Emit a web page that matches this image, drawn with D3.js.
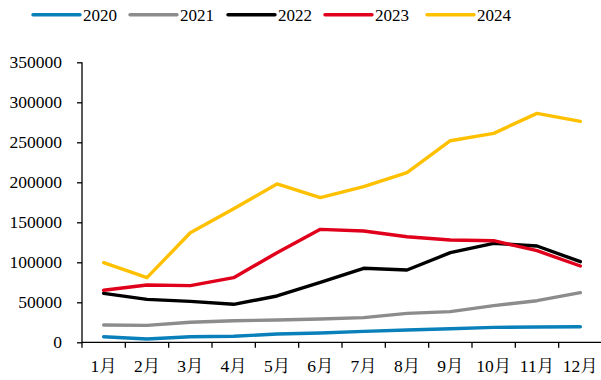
<!DOCTYPE html>
<html>
<head>
<meta charset="utf-8">
<script src="https://cdn.jsdelivr.net/npm/d3@7"></script>
<style>
  html, body { margin: 0; padding: 0; background: #fff; }
  svg { display: block; }
</style>
</head>
<body>
<svg id="chart" width="601" height="380"></svg>
<script>
// Monthly values per year
const months = ["1月","2月","3月","4月","5月","6月","7月","8月","9月","10月","11月","12月"];
const years = ["2020","2021","2022","2023","2024"];
const colors = ["#0a80ba","#8c8c8c","#000000","#e0001b","#ffc000"];
const s2020 = [7000, 4100, 7000, 7500, 10400, 11600, 13700, 15400, 17000, 18700, 19100, 19500];
const s2021 = [21600, 21200, 25000, 27000, 27900, 29100, 30800, 36200, 38300, 45800, 52000, 62000];
const s2022 = [61200, 53700, 51200, 47500, 57900, 75000, 92500, 90400, 112000, 123700, 120400, 100800];
const s2023 = [65000, 71600, 70800, 80800, 112000, 141200, 139100, 132000, 127900, 127000, 114500, 95400];
const s2024 = [99500, 80800, 137000, 167000, 197900, 180800, 194500, 212000, 252000, 261200, 286200, 276200];
const yTicks = [0, 50000, 100000, 150000, 200000, 250000, 300000, 350000];

const series = [s2020, s2021, s2022, s2023, s2024];
const FONT = "'Liberation Serif', 'Times New Roman', 'Noto Serif CJK SC', serif";

const svg = d3.select("#chart");
const plotLeft = 82, plotRight = 602, plotTop = 62.3, plotBottom = 342.3;

const x = d3.scaleBand().domain(months).range([plotLeft, plotRight]).paddingInner(0).paddingOuter(0);
const y = d3.scaleLinear().domain([0, 350000]).range([plotBottom, plotTop]);

// Y axis
const yAxis = svg.append("g")
  .attr("transform", `translate(${plotLeft},0)`)
  .call(d3.axisLeft(y).tickValues(yTicks).tickSize(5).tickPadding(15).tickFormat(d3.format("d")));
yAxis.attr("font-family", null).attr("font-size", null);
yAxis.selectAll("text")
  .style("font-family", FONT).style("font-size", "17.5px").attr("fill", "#000");
yAxis.selectAll("line, path").attr("stroke", "#000").attr("stroke-width", 1.3);
yAxis.select(".domain").attr("d", `M0,${plotBottom}V${plotTop}`);

// X axis with ticks on band edges
const xAxis = svg.append("g")
  .attr("transform", `translate(0,${plotBottom})`);
xAxis.append("line")
  .attr("x1", plotLeft).attr("x2", plotRight).attr("y1", 0).attr("y2", 0)
  .attr("stroke", "#000").attr("stroke-width", 1.3);
const edges = months.map(m => x(m)).concat([x.range()[1]]);
xAxis.selectAll("line.tick").data(edges).enter().append("line")
  .attr("class", "tick")
  .attr("x1", d => d).attr("x2", d => d).attr("y1", 0).attr("y2", 5.5)
  .attr("stroke", "#000").attr("stroke-width", 1.3);
xAxis.selectAll("text").data(months).enter().append("text")
  .attr("x", d => x(d) + x.bandwidth() / 2)
  .attr("y", 30)
  .attr("text-anchor", "middle")
  .style("font-family", FONT)
  .style("font-size", "17.5px")
  .attr("fill", "#000")
  .text(d => d);

// Lines
const line = d3.line()
  .x((d, i) => x(months[i]) + x.bandwidth() / 2)
  .y(d => y(d));

svg.append("g").selectAll("path").data(series).enter().append("path")
  .attr("d", d => line(d))
  .attr("fill", "none")
  .attr("stroke", (d, i) => colors[i])
  .attr("stroke-width", 3.4)
  .attr("stroke-linejoin", "round")
  .attr("stroke-linecap", "round");

// Legend
const legendX = [33, 130, 228, 325, 427];
const lg = svg.append("g");
years.forEach((yr, i) => {
  lg.append("line")
    .attr("x1", legendX[i]).attr("x2", legendX[i] + 47)
    .attr("y1", 14.7).attr("y2", 14.7)
    .attr("stroke", colors[i]).attr("stroke-width", 3.4)
    .attr("stroke-linecap", "round");
  lg.append("text")
    .attr("x", legendX[i] + 50).attr("y", 20.5)
    .style("font-family", FONT)
    .style("font-size", "17px")
    .attr("fill", "#000")
    .text(yr);
});
</script>
</body>
</html>
